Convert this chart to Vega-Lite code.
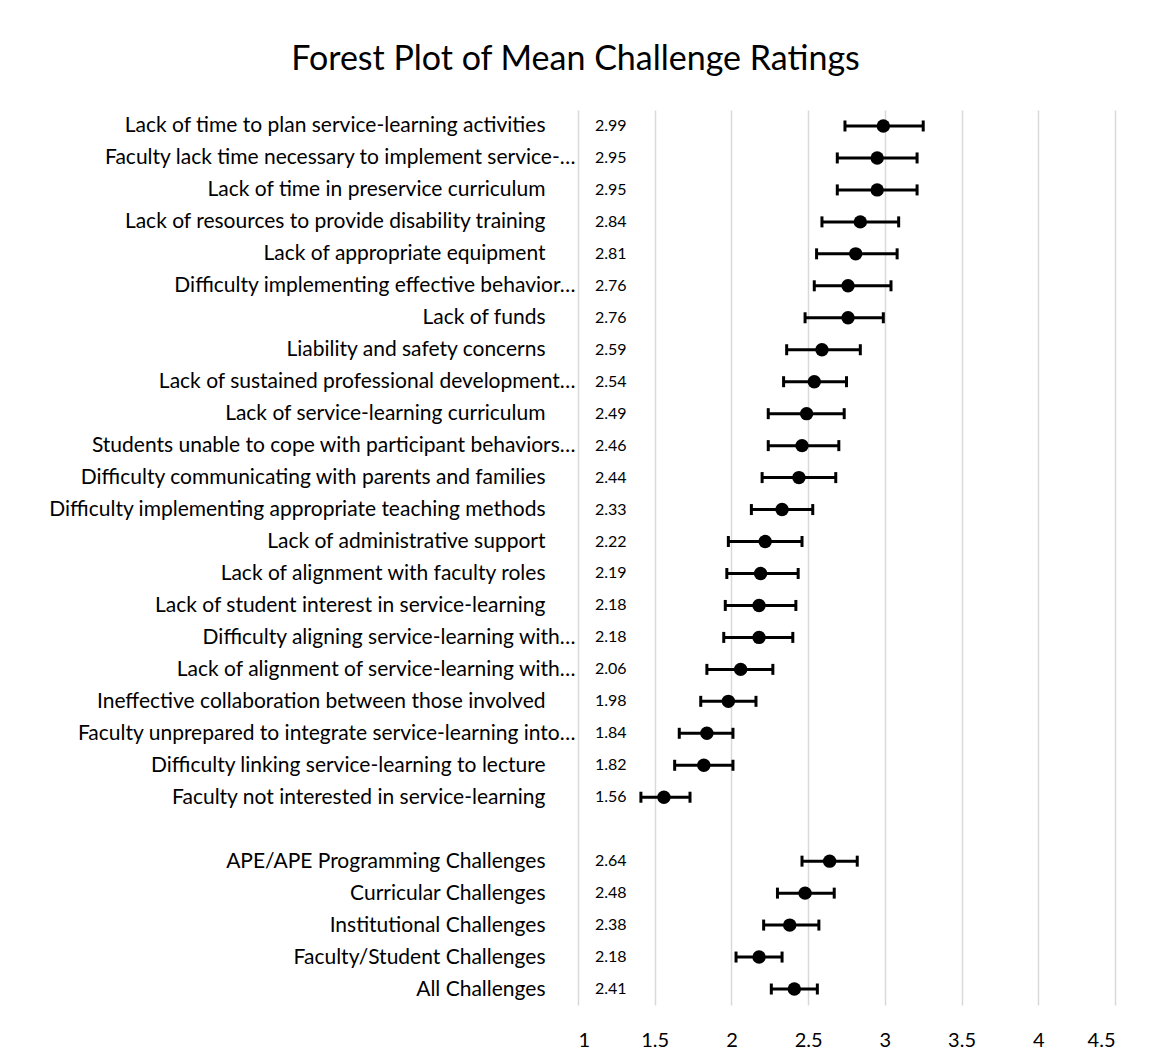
{
  "$schema": "https://vega.github.io/schema/vega-lite/v6.json",
  "width": 537,
  "height": 895,
  "autosize": {"type": "none"},
  "padding": {"left": 578, "top": 110, "right": 34, "bottom": 54},
  "background": "white",
  "title": {"text": "Forest Plot of Mean Challenge Ratings", "font": "Lato", "fontSize": 34, "fontWeight": "normal", "color": "#000000", "anchor": "middle", "frame": "group", "dx": -271, "offset": 33},
  "config": {"view": {"stroke": null}},
  "data": {"values": [
    {"label": "Lack of time to plan service-learning activities\u00a0", "mean": 2.99, "lo": 2.74, "hi": 3.25},
    {"label": "Faculty lack time necessary to implement service-…", "mean": 2.95, "lo": 2.69, "hi": 3.21},
    {"label": "Lack of time in preservice curriculum\u00a0", "mean": 2.95, "lo": 2.69, "hi": 3.21},
    {"label": "Lack of resources to provide disability training", "mean": 2.84, "lo": 2.59, "hi": 3.09},
    {"label": "Lack of appropriate equipment", "mean": 2.81, "lo": 2.555, "hi": 3.08},
    {"label": "Difficulty implementing effective behavior…", "mean": 2.76, "lo": 2.54, "hi": 3.04},
    {"label": "Lack of funds", "mean": 2.76, "lo": 2.48, "hi": 2.99},
    {"label": "Liability and safety concerns", "mean": 2.59, "lo": 2.36, "hi": 2.84},
    {"label": "Lack of sustained professional development…", "mean": 2.54, "lo": 2.34, "hi": 2.75},
    {"label": "Lack of service-learning curriculum", "mean": 2.49, "lo": 2.24, "hi": 2.735},
    {"label": "Students unable to cope with participant behaviors…", "mean": 2.46, "lo": 2.24, "hi": 2.70},
    {"label": "Difficulty communicating with parents and families", "mean": 2.44, "lo": 2.20, "hi": 2.68},
    {"label": "Difficulty implementing appropriate teaching methods", "mean": 2.33, "lo": 2.13, "hi": 2.53},
    {"label": "Lack of administrative support", "mean": 2.22, "lo": 1.98, "hi": 2.46},
    {"label": "Lack of alignment with faculty roles", "mean": 2.19, "lo": 1.97, "hi": 2.435},
    {"label": "Lack of student interest in service-learning", "mean": 2.18, "lo": 1.96, "hi": 2.42},
    {"label": "Difficulty aligning service-learning with…", "mean": 2.18, "lo": 1.95, "hi": 2.40},
    {"label": "Lack of alignment of service-learning with…", "mean": 2.06, "lo": 1.84, "hi": 2.27},
    {"label": "Ineffective collaboration between those involved", "mean": 1.98, "lo": 1.80, "hi": 2.16},
    {"label": "Faculty unprepared to integrate service-learning into…", "mean": 1.84, "lo": 1.66, "hi": 2.01},
    {"label": "Difficulty linking service-learning to lecture", "mean": 1.82, "lo": 1.63, "hi": 2.01},
    {"label": "Faculty not interested in service-learning", "mean": 1.56, "lo": 1.41, "hi": 1.73},
    {"label": "APE/APE Programming Challenges", "mean": 2.64, "lo": 2.46, "hi": 2.82},
    {"label": "Curricular Challenges", "mean": 2.48, "lo": 2.30, "hi": 2.67},
    {"label": "Institutional Challenges", "mean": 2.38, "lo": 2.21, "hi": 2.57},
    {"label": "Faculty/Student Challenges", "mean": 2.18, "lo": 2.03, "hi": 2.33},
    {"label": "All Challenges", "mean": 2.41, "lo": 2.26, "hi": 2.56}
  ]},
  "encoding": {
    "y": {
      "field": "label", "type": "nominal",
      "scale": {"type": "point", "padding": 0.5, "domain": [
        "Lack of time to plan service-learning activities\u00a0",
        "Faculty lack time necessary to implement service-…",
        "Lack of time in preservice curriculum\u00a0",
        "Lack of resources to provide disability training",
        "Lack of appropriate equipment",
        "Difficulty implementing effective behavior…",
        "Lack of funds",
        "Liability and safety concerns",
        "Lack of sustained professional development…",
        "Lack of service-learning curriculum",
        "Students unable to cope with participant behaviors…",
        "Difficulty communicating with parents and families",
        "Difficulty implementing appropriate teaching methods",
        "Lack of administrative support",
        "Lack of alignment with faculty roles",
        "Lack of student interest in service-learning",
        "Difficulty aligning service-learning with…",
        "Lack of alignment of service-learning with…",
        "Ineffective collaboration between those involved",
        "Faculty unprepared to integrate service-learning into…",
        "Difficulty linking service-learning to lecture",
        "Faculty not interested in service-learning",
        " ",
        "APE/APE Programming Challenges",
        "Curricular Challenges",
        "Institutional Challenges",
        "Faculty/Student Challenges",
        "All Challenges"
      ]},
      "axis": {
        "title": null, "domain": false, "ticks": false, "grid": false,
        "labelFont": "Lato", "labelFontSize": 21, "labelColor": "#000000", "labelLimit": 0,
        "labelPadding": {"condition": {"test": "indexof(datum.value, '…') >= 0", "value": 3}, "value": 33}
      }
    }
  },
  "layer": [
    {
      "mark": {"type": "rule", "strokeWidth": 3, "color": "#000000"},
      "encoding": {
        "x": {"field": "lo", "type": "quantitative", "scale": {"domain": [1, 4.5], "nice": false, "zero": false},
          "axis": {"title": null, "values": [1, 1.5, 2, 2.5, 3, 3.5, 4, 4.5], "format": "~g", "grid": true, "gridColor": "#d9d9d9", "gridWidth": 1.5, "domain": false, "ticks": false, "labelPadding": 25, "labelFont": "Lato", "labelFontSize": 20, "labelColor": "#000000"}},
        "x2": {"field": "hi"}
      }
    },
    {
      "mark": {"type": "tick", "orient": "vertical", "size": 11, "thickness": 3, "color": "#000000", "opacity": 1},
      "encoding": {"x": {"field": "lo", "type": "quantitative"}}
    },
    {
      "mark": {"type": "tick", "orient": "vertical", "size": 11, "thickness": 3, "color": "#000000", "opacity": 1},
      "encoding": {"x": {"field": "hi", "type": "quantitative"}}
    },
    {
      "mark": {"type": "point", "filled": true, "size": 180, "color": "#000000", "opacity": 1},
      "encoding": {"x": {"field": "mean", "type": "quantitative"}}
    },
    {
      "mark": {"type": "text", "align": "left", "baseline": "middle", "font": "Lato", "fontSize": 16, "color": "#000000"},
      "encoding": {
        "x": {"datum": 1.11},
        "text": {"field": "mean", "type": "quantitative", "format": ".2f"}
      }
    }
  ]
}
